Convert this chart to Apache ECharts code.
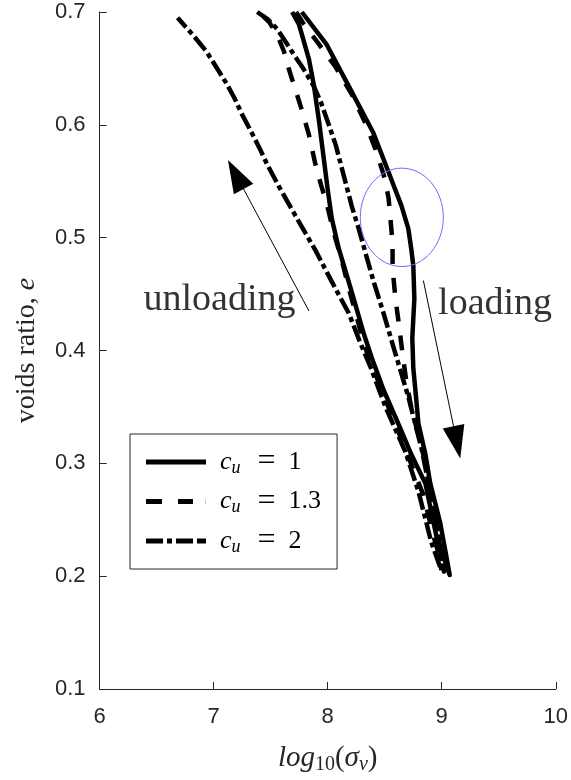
<!DOCTYPE html>
<html><head><meta charset="utf-8">
<script src="https://cdn.jsdelivr.net/npm/echarts@6/dist/echarts.min.js"></script>
<style>html,body{margin:0;padding:0;background:#fff}#c{width:571px;height:780px}</style>
</head><body><div id="c"></div>
<script>
// ---- data (log10 sigma_v, void ratio e), loading branch then unloading branch ----
const cu1Sigma = [7.773,7.992,8.181,8.400,8.534,8.648,8.707,8.733,8.751,8.760,8.742,8.751,8.769,8.796,8.857,8.900,8.987,9.040,9.070,
                  8.952,8.857,8.733,8.620,8.490,8.385,8.316,8.228,8.158,8.098,8.036,8.001,7.967,7.923,7.879,7.836,7.774,7.748,7.688];
const cu1E     = [0.700,0.671,0.635,0.593,0.558,0.528,0.508,0.490,0.475,0.446,0.411,0.384,0.365,0.335,0.308,0.282,0.247,0.218,0.201,
                  0.236,0.282,0.308,0.335,0.365,0.394,0.415,0.446,0.470,0.490,0.517,0.542,0.569,0.604,0.635,0.658,0.680,0.689,0.700];
const cu13Sigma = [7.723,7.792,7.897,8.071,8.211,8.324,8.421,8.499,8.534,8.552,8.569,8.569,8.594,8.629,8.656,8.691,8.742,8.813,8.882,8.944,8.996,9.020,
                   8.926,8.839,8.726,8.620,8.516,8.403,8.316,8.246,8.185,8.124,8.054,7.992,7.941,7.888,7.836,7.774,7.730,7.661,7.617,7.556,7.487,7.417];
const cu13E     = [0.700,0.689,0.675,0.651,0.627,0.603,0.578,0.553,0.535,0.515,0.495,0.473,0.446,0.420,0.397,0.372,0.345,0.319,0.288,0.253,0.218,0.204,
                   0.236,0.272,0.301,0.328,0.354,0.383,0.406,0.433,0.455,0.480,0.504,0.530,0.547,0.567,0.591,0.613,0.627,0.649,0.665,0.680,0.691,0.698];
const cu2Sigma = [7.382,7.470,7.556,7.635,7.705,7.792,7.879,7.941,8.010,8.071,8.141,8.211,8.272,8.333,8.403,8.490,8.577,8.707,8.821,8.909,8.970,8.997,
                  8.909,8.796,8.682,8.507,8.377,8.289,8.185,8.036,7.897,7.748,7.574,7.469,7.399,7.329,7.250,7.181,7.111,7.024,6.937,6.815,6.684];
const cu2E     = [0.700,0.694,0.685,0.673,0.662,0.649,0.634,0.620,0.600,0.582,0.555,0.528,0.508,0.486,0.461,0.433,0.403,0.359,0.314,0.270,0.236,0.205,
                  0.230,0.275,0.310,0.350,0.385,0.406,0.433,0.461,0.488,0.514,0.545,0.565,0.580,0.594,0.609,0.624,0.637,0.651,0.665,0.680,0.695];
const xTickValues = [6,7,8,9,10];
const yTickValues = [0.1,0.2,0.3,0.4,0.5,0.6,0.7];
const seriesNames = ['c_u = 1','c_u = 1.3','c_u = 2'];
const legendValues = ['1','1.3','2'];
// annotations in data coordinates
const unloadArrow = [[7.836,0.435],[7.194,0.556]];
const loadArrow   = [[8.839,0.462],[9.133,0.3185]];
const unloadText  = [7.051,0.445];
const loadText    = [9.468,0.441];
const circleData  = [8.650,0.518,0.364,0.0436];   // centre x, centre y, half-width, half-height

const zip = (a,b) => a.map((v,i)=>[v,b[i]]);
const ink = '#262626';
const chart = echarts.init(document.getElementById('c'), null, {renderer:'canvas'});
const baseLine = {type:'line', showSymbol:false, symbol:'none', smooth:false, animation:false, z:3};
const serif = 'Liberation Serif';
chart.setOption({
  animation:false,
  backgroundColor:'#fff',
  grid:{left:99.6, right:13, top:12, bottom:86.4, containLabel:false},
  xAxis:{type:'value', min:6, max:10, interval:1,
    axisLine:{show:true, onZero:false, lineStyle:{color:ink, width:1}},
    axisTick:{show:true, inside:true, length:7, lineStyle:{color:ink}},
    splitLine:{show:false},
    axisLabel:{color:ink, fontFamily:'Liberation Sans', fontSize:22, margin:17,
      formatter:v=>xTickValues.includes(v)?String(v):''},
    name:'{i|log}{s|10}{p|(}{i|σ}{si|v}{p|)}', nameLocation:'middle', nameGap:53,
    nameTextStyle:{rich:{
      i:{fontFamily:serif, fontStyle:'italic', fontSize:29, color:ink},
      p:{fontFamily:serif, fontSize:29, color:ink},
      s:{fontFamily:serif, fontSize:20, color:ink, padding:[13,0,0,0]},
      si:{fontFamily:serif, fontStyle:'italic', fontSize:20, color:ink, padding:[13,0,0,0]}
    }}
  },
  yAxis:{type:'value', min:0.1, max:0.7, interval:0.1,
    axisLine:{show:true, onZero:false, lineStyle:{color:ink, width:1}},
    axisTick:{show:true, inside:true, length:7, lineStyle:{color:ink}},
    splitLine:{show:false},
    axisLabel:{color:ink, fontFamily:'Liberation Sans', fontSize:22, margin:14,
      formatter:v=>{const t=yTickValues.find(y=>Math.abs(y-v)<1e-9);return t===undefined?'':t.toFixed(1);}},
    name:'{r|voids ratio, }{i|e}', nameLocation:'middle', nameGap:59, nameRotate:90,
    nameTextStyle:{rich:{
      r:{fontFamily:serif, fontSize:28, color:ink},
      i:{fontFamily:serif, fontStyle:'italic', fontSize:28, color:ink}
    }}
  },
  legend:{show:true, orient:'vertical', left:130, top:434,
    data:[
      {name:seriesNames[0], icon:'path://M0,0H60V5H0Z'},
      {name:seriesNames[1], icon:'path://M0,0H16V5H0Z M32,0H47V5H32Z M59.8,0H60V5H59.8Z'},
      {name:seriesNames[2], icon:'path://M0,0H17V5H0Z M21,0H26V5H21Z M30,0H47V5H30Z M51,0H60V5H51Z'}
    ],
    itemWidth:60, itemHeight:5, itemGap:7.5,
    padding:[12,16,12,16], borderColor:ink, borderWidth:1, backgroundColor:'#fff',
    selectedMode:false, itemStyle:{color:'#000', borderWidth:0},
    formatter:name=>'{c|c}{s|u}{q|=}{n|'+legendValues[seriesNames.indexOf(name)]+'}',
    textStyle:{color:'#000', lineHeight:30, rich:{
      c:{fontFamily:serif, fontStyle:'italic', fontSize:26, color:'#000', lineHeight:30, padding:[0,0,0,9]},
      s:{fontFamily:serif, fontStyle:'italic', fontSize:18, color:'#000', lineHeight:30, padding:[12,0,0,0]},
      q:{fontFamily:serif, fontSize:32, color:'#000', lineHeight:30, padding:[0,13,0,17]},
      n:{fontFamily:serif, fontSize:26, color:'#000', lineHeight:30}
    }}
  },
  series:[
    Object.assign({}, baseLine, {name:seriesNames[0], data:zip(cu1Sigma,cu1E),
      lineStyle:{color:'#000', width:4.5, type:'solid', cap:'butt', join:'round'}, itemStyle:{color:'#000'},
      markLine:{silent:true, animation:false, symbol:['none','triangle'], symbolSize:[22,33],
        lineStyle:{color:'#000', width:1, type:'solid'}, label:{show:false}, itemStyle:{color:'#000'},
        emphasis:{disabled:true},
        data:[
          [{coord:unloadArrow[0]},{coord:unloadArrow[1]}],
          [{coord:loadArrow[0]},{coord:loadArrow[1]}]
        ]}}),
    Object.assign({}, baseLine, {name:seriesNames[1], data:zip(cu13Sigma,cu13E),
      lineStyle:{color:'#000', width:4.5, type:[15,14], cap:'butt', join:'round'}, itemStyle:{color:'#000'}}),
    Object.assign({}, baseLine, {name:seriesNames[2], data:zip(cu2Sigma,cu2E),
      lineStyle:{color:'#000', width:4.5, type:[17,4,5,4], cap:'butt', join:'round'}, itemStyle:{color:'#000'}})
  ]
});
// annotations placed through the axes' own scales
const P = p => chart.convertToPixel({gridIndex:0}, p);
const c0 = P([circleData[0],circleData[1]]);
const cx1 = P([circleData[0]+circleData[2],circleData[1]]);
const cy1 = P([circleData[0],circleData[1]+circleData[3]]);
const ut = P(unloadText), lt = P(loadText);
chart.setOption({graphic:[
  {type:'ellipse', shape:{cx:c0[0], cy:c0[1], rx:Math.abs(cx1[0]-c0[0]), ry:Math.abs(cy1[1]-c0[1])},
   style:{fill:'none', stroke:'#6b6bff', lineWidth:1}, z:10},
  {type:'text', x:ut[0], y:ut[1], style:{text:'unloading', font:'38px "Liberation Serif"', fill:'#333', align:'center', verticalAlign:'middle'}, z:10},
  {type:'text', x:lt[0], y:lt[1], style:{text:'loading', font:'38px "Liberation Serif"', fill:'#333', align:'center', verticalAlign:'middle'}, z:10}
]});
</script></body></html>
